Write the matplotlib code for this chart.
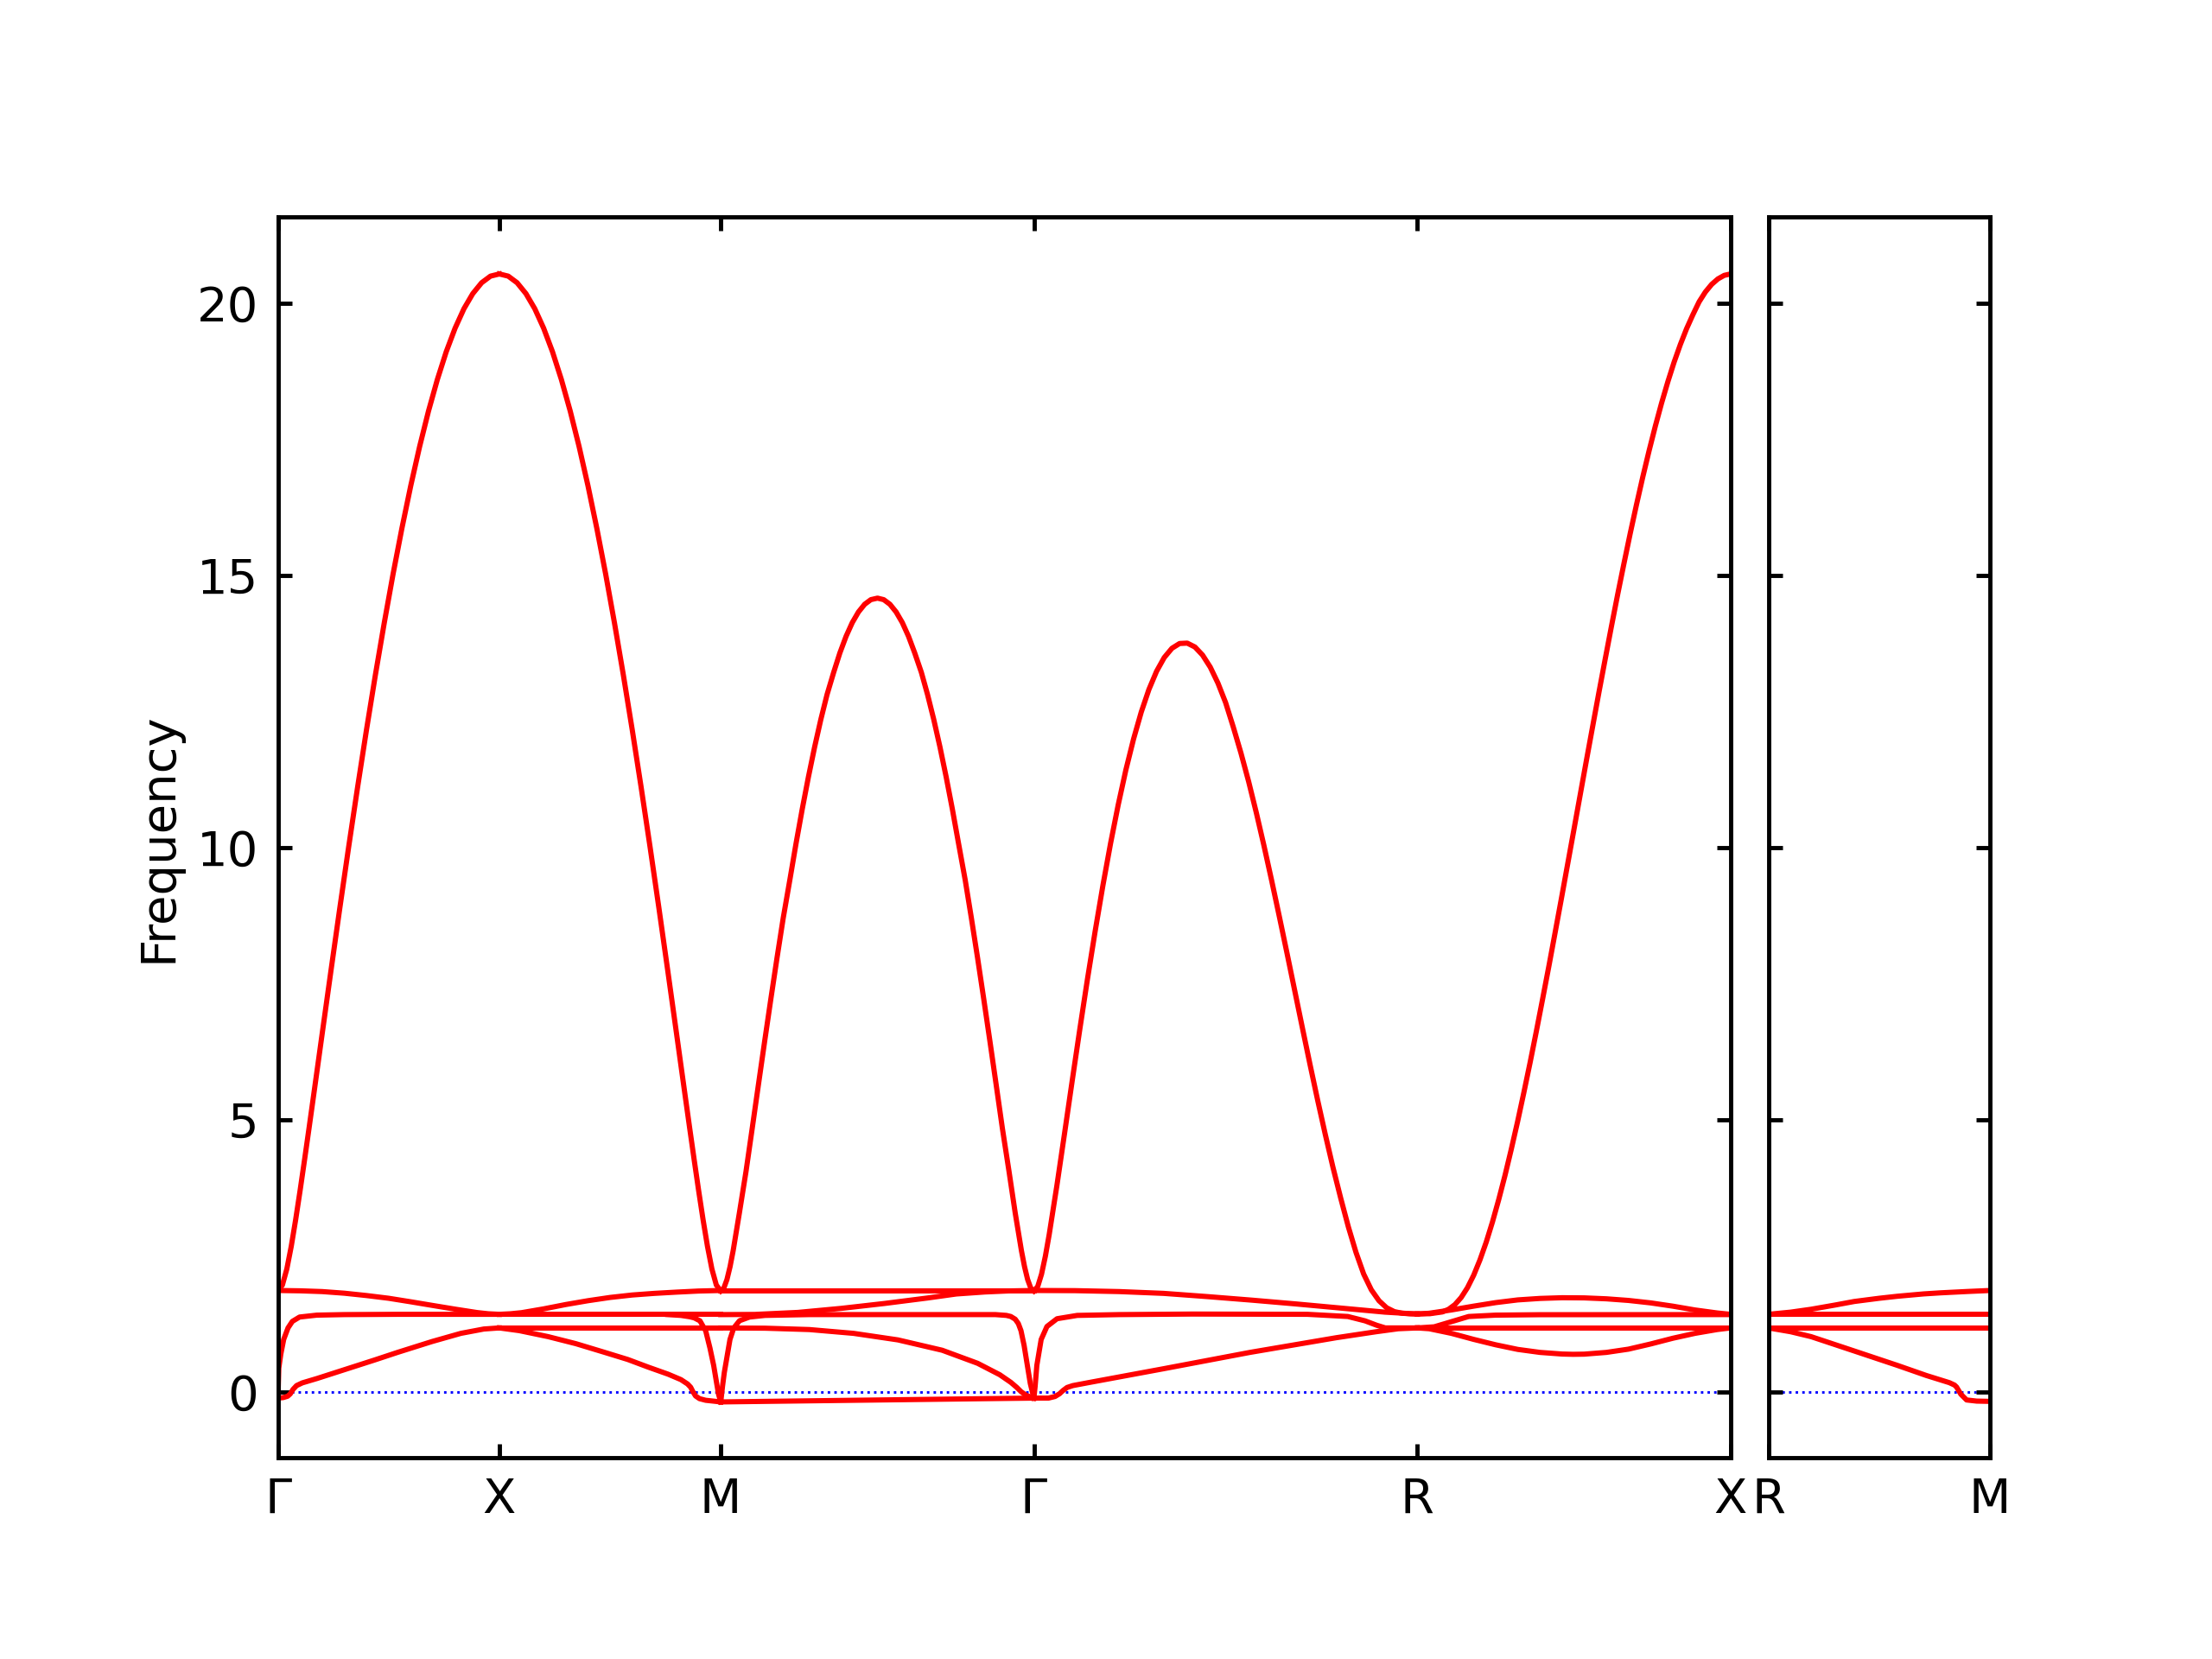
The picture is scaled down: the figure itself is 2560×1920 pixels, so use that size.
import matplotlib
matplotlib.use("Agg")
import matplotlib.pyplot as plt

# ---------------- high-symmetry path ----------------
main_tick_pos = [0.0, 0.5, 1.0, 1.7071, 2.5731, 3.2802]
main_tick_lab = ["Γ", "X", "M", "Γ", "R", "X"]
side_tick_pos = [0.0, 0.5]
side_tick_lab = ["R", "M"]
y_ticks = [0, 5, 10, 15, 20]

# ---------------- top (strongly dispersive) band ----------------
top_GX_k = [0.0, 0.01, 0.02, 0.03, 0.04, 0.05, 0.06, 0.07, 0.08, 0.09, 0.10, 0.12, 0.14, 0.16,
            0.18, 0.20, 0.22, 0.24, 0.26, 0.28, 0.30, 0.32, 0.34, 0.36, 0.38, 0.40, 0.42,
            0.44, 0.46, 0.48, 0.50]
top_GX_f = [1.849, 1.958, 2.252, 2.669, 3.161, 3.696, 4.257, 4.830, 5.413, 5.999, 6.586, 7.754,
            8.905, 10.028, 11.116, 12.166, 13.170, 14.125, 15.028, 15.870, 16.653, 17.371,
            18.022, 18.602, 19.111, 19.544, 19.902, 20.180, 20.380, 20.501, 20.541]

top_XM_k = [0.50, 0.52, 0.54, 0.56, 0.58, 0.60, 0.62, 0.64, 0.66, 0.68, 0.70, 0.72, 0.74, 0.76,
            0.78, 0.80, 0.82, 0.84, 0.86, 0.88, 0.90, 0.91, 0.92, 0.93, 0.94, 0.95, 0.96,
            0.97, 0.98, 0.99, 1.00]
top_XM_f = [20.541, 20.501, 20.380, 20.180, 19.902, 19.544, 19.111, 18.602, 18.022, 17.371,
            16.653, 15.870, 15.028, 14.125, 13.170, 12.166, 11.116, 10.028, 8.905, 7.754,
            6.586, 5.999, 5.413, 4.830, 4.257, 3.696, 3.161, 2.669, 2.252, 1.958, 1.849]

top_MG_k = [1.0, 1.007, 1.014, 1.021, 1.028, 1.042, 1.057, 1.071, 1.085, 1.099, 1.113, 1.127,
            1.141, 1.156, 1.170, 1.184, 1.198, 1.212, 1.226, 1.240, 1.255, 1.269, 1.283,
            1.297, 1.311, 1.325, 1.339, 1.354, 1.368, 1.382, 1.396, 1.410, 1.424, 1.438,
            1.453, 1.467, 1.481, 1.495, 1.509, 1.523, 1.537, 1.552, 1.566, 1.580, 1.594,
            1.608, 1.622, 1.636, 1.651, 1.665, 1.679, 1.686, 1.693, 1.700, 1.7071]
top_MG_f = [1.849, 1.904, 2.060, 2.296, 2.590, 3.281, 4.045, 4.837, 5.637, 6.431, 7.210, 7.969,
            8.701, 9.404, 10.074, 10.706, 11.298, 11.848, 12.353, 12.810, 13.219, 13.576,
            13.881, 14.133, 14.329, 14.470, 14.555, 14.583, 14.555, 14.470, 14.329, 14.133,
            13.881, 13.576, 13.219, 12.810, 12.353, 11.848, 11.298, 10.706, 10.074, 9.404,
            8.701, 7.969, 7.210, 6.431, 5.637, 4.837, 4.045, 3.281, 2.590, 2.296, 2.060,
            1.904, 1.849]

top_GR_k = [1.7071, 1.7158, 1.7244, 1.7331, 1.7417, 1.7591, 1.7764, 1.7937, 1.8110, 1.8283,
            1.8457, 1.8630, 1.8803, 1.8976, 1.9149, 1.9323, 1.9496, 1.9669, 1.9842, 2.0015,
            2.0189, 2.0362, 2.0535, 2.0708, 2.0881, 2.1055, 2.1228, 2.1401, 2.1574, 2.1747,
            2.1921, 2.2094, 2.2267, 2.2440, 2.2613, 2.2787, 2.2960, 2.3133, 2.3306, 2.3479,
            2.3653, 2.3826, 2.3999, 2.4172, 2.4345, 2.4519, 2.4692, 2.4865, 2.5038, 2.5211,
            2.5385, 2.5558, 2.5731]
top_GR_f = [1.849, 1.931, 2.158, 2.489, 2.886, 3.787, 4.746, 5.715, 6.668, 7.590, 8.471, 9.302,
            10.075, 10.785, 11.427, 11.996, 12.489, 12.904, 13.238, 13.491, 13.661, 13.749,
            13.756, 13.685, 13.536, 13.314, 13.021, 12.663, 12.215, 11.738, 11.212, 10.641,
            10.034, 9.396, 8.736, 8.060, 7.377, 6.693, 6.017, 5.358, 4.723, 4.120, 3.560,
            3.030, 2.560, 2.160, 1.870, 1.670, 1.540, 1.470, 1.440, 1.430, 1.428]

top_RX_k = [2.5731, 2.6014, 2.6297, 2.6438, 2.6580, 2.6721, 2.6862, 2.7004, 2.7145, 2.7287,
            2.7428, 2.7569, 2.7711, 2.7852, 2.7994, 2.8135, 2.8277, 2.8418, 2.8559, 2.8701,
            2.8842, 2.8984, 2.9125, 2.9267, 2.9408, 2.9549, 2.9691, 2.9832, 2.9974, 3.0115,
            3.0256, 3.0398, 3.0539, 3.0681, 3.0822, 3.0964, 3.1105, 3.1246, 3.1388, 3.1529,
            3.1671, 3.1812, 3.1953, 3.2095, 3.2236, 3.2378, 3.2519, 3.2661, 3.2802]
top_RX_f = [1.428, 1.431, 1.464, 1.513, 1.599, 1.729, 1.908, 2.139, 2.420, 2.748, 3.119, 3.529,
            3.974, 4.452, 4.958, 5.490, 6.045, 6.619, 7.211, 7.816, 8.434, 9.060, 9.692,
            10.328, 10.964, 11.599, 12.229, 12.852, 13.465, 14.067, 14.654, 15.223, 15.774,
            16.304, 16.809, 17.290, 17.742, 18.166, 18.559, 18.919, 19.245, 19.536, 19.791,
            20.030, 20.210, 20.350, 20.450, 20.515, 20.541]

# ---------------- low-lying bands, Γ-X ----------------
gx_a_k = [0.0, 0.05, 0.10, 0.15, 0.20, 0.25, 0.30, 0.35, 0.40, 0.45, 0.475, 0.50]
gx_a_f = [1.858, 1.852, 1.838, 1.808, 1.765, 1.715, 1.650, 1.582, 1.515, 1.452, 1.430, 1.420]
gx_b_k = [0.0, 0.0019, 0.0065, 0.013, 0.0227, 0.0325, 0.0488, 0.0878, 0.15, 0.27, 0.50]
gx_b_f = [-0.12, 0.43, 0.69, 0.96, 1.17, 1.29, 1.37, 1.405, 1.415, 1.42, 1.42]
gx_c_k = [0.0, 0.012, 0.022, 0.028, 0.034, 0.042, 0.055, 0.088, 0.153, 0.218, 0.27, 0.348,
          0.413, 0.465, 0.50]
gx_c_f = [-0.12, -0.11, -0.085, -0.04, 0.04, 0.11, 0.16, 0.24, 0.41, 0.58, 0.72, 0.92, 1.07,
          1.15, 1.17]

# ---------------- X-M ----------------
xm_a_k = [0.50, 0.525, 0.55, 0.60, 0.65, 0.70, 0.75, 0.80, 0.85, 0.90, 0.95, 1.00]
xm_a_f = [1.42, 1.43, 1.45, 1.52, 1.60, 1.67, 1.73, 1.775, 1.805, 1.828, 1.848, 1.858]
xm_flat1_k = [0.50, 1.00]
xm_flat1_f = [1.415, 1.415]
xm_flat2_k = [0.50, 1.00]
xm_flat2_f = [1.17, 1.17]
xm_v_k = [0.88, 0.91, 0.93, 0.94, 0.953, 0.966, 0.9756, 0.984, 0.9905, 0.995, 1.00]
xm_v_f = [1.415, 1.40, 1.375, 1.355, 1.30, 1.116, 0.80, 0.48, 0.164, -0.05, -0.19]
xm_d_k = [0.50, 0.545, 0.61, 0.673, 0.738, 0.79, 0.836, 0.881, 0.91, 0.925, 0.932, 0.937,
          0.943, 0.952, 0.966, 1.00]
xm_d_f = [1.17, 1.12, 1.01, 0.88, 0.72, 0.59, 0.45, 0.32, 0.22, 0.14, 0.08, 0.0, -0.08,
          -0.13, -0.16, -0.19]

# ---------------- M-Γ ----------------
mg_flat_k = [1.0, 1.7071]
mg_flat_f = [1.858, 1.858]
mg_rise_k = [1.0, 1.0766, 1.1742, 1.2718, 1.3693, 1.4669, 1.532, 1.597, 1.65, 1.7071]
mg_rise_f = [1.415, 1.418, 1.455, 1.529, 1.619, 1.72, 1.794, 1.831, 1.85, 1.858]
mg_v_k = [1.0, 1.004, 1.008, 1.013, 1.0208, 1.0293, 1.0423, 1.065, 1.10, 1.20, 1.62, 1.645,
          1.655, 1.665, 1.672, 1.678, 1.685, 1.692, 1.699, 1.7071]
mg_v_f = [-0.19, 0.10, 0.35, 0.587, 0.958, 1.169, 1.302, 1.37, 1.40, 1.415, 1.415, 1.40,
          1.38, 1.33, 1.25, 1.12, 0.85, 0.50, 0.15, -0.12]
mg_desc_k = [1.0, 1.1, 1.2, 1.3, 1.4, 1.5, 1.58, 1.63, 1.655, 1.668, 1.678, 1.69, 1.7071]
mg_desc_f = [1.169, 1.165, 1.14, 1.07, 0.95, 0.76, 0.52, 0.31, 0.17, 0.08, 0.0, -0.07, -0.12]
mg_bot_k = [1.0, 1.3, 1.6, 1.7071]
mg_bot_f = [-0.19, -0.16, -0.13, -0.12]

# ---------------- Γ-R ----------------
gr_b_k = [1.7071, 1.8, 1.9, 2.0, 2.1, 2.2, 2.3, 2.4, 2.5, 2.5731]
gr_b_f = [1.858, 1.855, 1.838, 1.805, 1.745, 1.68, 1.61, 1.535, 1.46, 1.425]
gr_c_k = [1.7071, 1.71, 1.7138, 1.7236, 1.7366, 1.7594, 1.805, 1.9, 2.065, 2.325, 2.4161,
          2.455, 2.481, 2.5008, 2.5731]
gr_c_f = [-0.12, 0.10, 0.481, 0.958, 1.196, 1.339, 1.40, 1.415, 1.425, 1.42, 1.38, 1.30,
          1.22, 1.17, 1.17]
gr_d_k = [1.7071, 1.74, 1.755, 1.765, 1.773, 1.782, 1.795, 1.8374, 2.0, 2.195, 2.39, 2.48,
          2.53, 2.5731]
gr_d_f = [-0.12, -0.12, -0.09, -0.04, 0.02, 0.075, 0.11, 0.175, 0.42, 0.72, 0.99, 1.10,
          1.155, 1.17]

# ---------------- R-X ----------------
rx_up_k = [2.5731, 2.60, 2.65, 2.70, 2.75, 2.80, 2.85, 2.90, 2.95, 3.00, 3.05, 3.10, 3.15,
           3.20, 3.25, 3.2802]
rx_up_f = [1.425, 1.44, 1.50, 1.57, 1.635, 1.685, 1.712, 1.725, 1.722, 1.705, 1.675, 1.63,
           1.57, 1.50, 1.445, 1.42]
rx_c_k = [2.5731, 2.611, 2.644, 2.689, 2.75, 2.85, 3.2802]
rx_c_f = [1.17, 1.19, 1.27, 1.38, 1.405, 1.413, 1.415]
rx_flat_k = [2.5731, 3.2802]
rx_flat_f = [1.17, 1.17]
rx_low_k = [2.5731, 2.60, 2.65, 2.70, 2.75, 2.80, 2.85, 2.90, 2.925, 2.95, 3.00, 3.05, 3.10,
            3.15, 3.20, 3.25, 3.2802]
rx_low_f = [1.17, 1.155, 1.07, 0.96, 0.86, 0.775, 0.72, 0.69, 0.685, 0.688, 0.72, 0.78, 0.875,
            0.98, 1.07, 1.14, 1.17]

# ---------------- second panel R-M ----------------
rm_rise_k = [0.0, 0.05, 0.0961, 0.15, 0.1937, 0.25, 0.2912, 0.35, 0.3888, 0.45, 0.50]
rm_rise_f = [1.42, 1.46, 1.513, 1.59, 1.656, 1.715, 1.752, 1.795, 1.815, 1.84, 1.858]
rm_flat1_k = [0.0, 0.5]
rm_flat1_f = [1.415, 1.415]
rm_flat2_k = [0.0, 0.5]
rm_flat2_f = [1.17, 1.17]
rm_desc_k = [0.0, 0.05, 0.0961, 0.1937, 0.2912, 0.3563, 0.4083, 0.42, 0.4246, 0.4343, 0.4473,
             0.47, 0.50]
rm_desc_f = [1.17, 1.10, 1.01, 0.746, 0.481, 0.296, 0.164, 0.12, 0.084, -0.048, -0.154,
             -0.175, -0.18]

main_lines = [
    (top_GX_k, top_GX_f), (top_XM_k, top_XM_f), (top_MG_k, top_MG_f),
    (top_GR_k, top_GR_f), (top_RX_k, top_RX_f),
    (gx_a_k, gx_a_f), (gx_b_k, gx_b_f), (gx_c_k, gx_c_f),
    (xm_a_k, xm_a_f), (xm_flat1_k, xm_flat1_f), (xm_flat2_k, xm_flat2_f),
    (xm_v_k, xm_v_f), (xm_d_k, xm_d_f),
    (mg_flat_k, mg_flat_f), (mg_rise_k, mg_rise_f), (mg_v_k, mg_v_f),
    (mg_desc_k, mg_desc_f), (mg_bot_k, mg_bot_f),
    (gr_b_k, gr_b_f), (gr_c_k, gr_c_f), (gr_d_k, gr_d_f),
    (rx_up_k, rx_up_f), (rx_c_k, rx_c_f), (rx_flat_k, rx_flat_f), (rx_low_k, rx_low_f),
]
side_lines = [
    (rm_rise_k, rm_rise_f), (rm_flat1_k, rm_flat1_f), (rm_flat2_k, rm_flat2_f),
    (rm_desc_k, rm_desc_f),
]

# ---------------- drawing ----------------
plt.rcParams['font.family'] = ['DejaVu Sans']
plt.rcParams['axes.linewidth'] = 1.1

fig = plt.figure(figsize=(8, 6), dpi=320)
ax1 = fig.add_axes([0.12566, 0.12151, 0.65664, 0.74776])
ax2 = fig.add_axes([0.79949, 0.12151, 0.10012, 0.74776])

YLIM = (-1.21, 21.59)
LW = 1.35
FS = 12.6

for ax, lines, xmax in ((ax1, main_lines, main_tick_pos[-1]), (ax2, side_lines, side_tick_pos[-1])):
    ax.axhline(0.0, color='blue', linestyle=':', linewidth=0.65, zorder=1)
    for k, f in lines:
        ax.plot(k, f, color='red', linewidth=LW, zorder=2)
    ax.set_xlim(0, xmax)
    ax.set_ylim(*YLIM)
    ax.set_yticks(y_ticks)
    ax.tick_params(direction='in', top=True, right=True, length=3.5, width=1.1,
                   labelsize=FS)
    ax.tick_params(axis='y', pad=5)
    ax.tick_params(axis='x', pad=5)

ax1.set_xticks(main_tick_pos)
ax1.set_xticklabels(main_tick_lab)
ax2.set_xticks(side_tick_pos)
ax2.set_xticklabels(side_tick_lab)
ax2.tick_params(labelleft=False)
ax1.set_ylabel('Frequency', fontsize=FS)

fig.savefig('out.png', dpi=320)
